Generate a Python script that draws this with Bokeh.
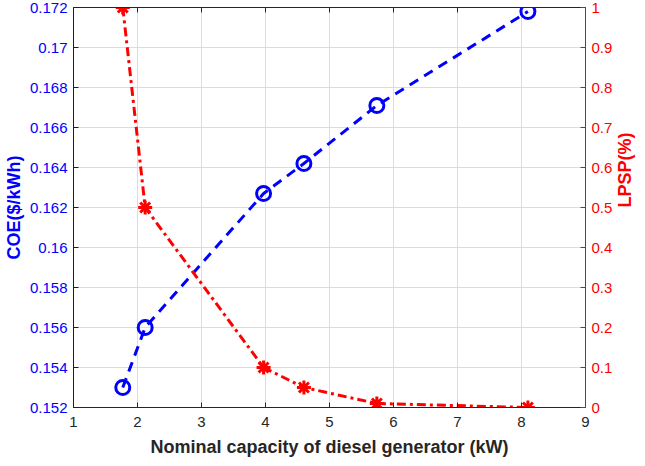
import math
from bokeh.plotting import figure
from bokeh.models import Range1d, LinearAxis, FixedTicker, CustomJSTickFormatter
from bokeh.embed import file_html
from bokeh.resources import INLINE

# Data
capacity_kw = [1.77, 2.12, 3.97, 4.60, 5.74, 8.10]
coe = [0.1530, 0.1560, 0.1627, 0.1642, 0.1671, 0.1718]
lpsp = [1.00, 0.50, 0.10, 0.05, 0.01, 0.00]

x_ticks = [1, 2, 3, 4, 5, 6, 7, 8, 9]
coe_ticks = [0.152, 0.154, 0.156, 0.158, 0.160, 0.162, 0.164, 0.166, 0.168, 0.170, 0.172]
lpsp_ticks = [0.0, 0.1, 0.2, 0.3, 0.4, 0.5, 0.6, 0.7, 0.8, 0.9, 1.0]

BLUE = "#0000ff"
RED = "#ff0000"
DARK = "#262626"
FONT = "Liberation Sans"
TICK_SIZE = "15px"
LABEL_SIZE = "18px"

p = figure(frame_width=512, frame_height=400, output_backend="svg", toolbar_location=None,
           x_range=Range1d(1, 9), y_range=Range1d(0.152, 0.172),
           min_border_left=10, min_border_top=7, min_border_right=4, min_border_bottom=4,
           background_fill_color="white", border_fill_color="white")
p.outline_line_color = None
p.extra_y_ranges = {"lpsp": Range1d(0, 1)}

# Grid
p.xgrid.ticker = FixedTicker(ticks=x_ticks)
p.xgrid.grid_line_color = "#dcdcdc"
p.xgrid.grid_line_width = 1
p.ygrid.ticker = FixedTicker(ticks=coe_ticks)
p.ygrid.grid_line_color = "#d8d8ff"
p.ygrid.grid_line_width = 1

# Bottom axis
xa = p.xaxis[0]
xa.ticker = FixedTicker(ticks=x_ticks)
xa.axis_label = "Nominal capacity of diesel generator (kW)"
xa.axis_label_text_font = FONT
xa.axis_label_text_font_style = "bold"
xa.axis_label_text_font_size = LABEL_SIZE
xa.axis_label_text_color = DARK
xa.axis_label_standoff = 7
xa.major_label_text_font = FONT
xa.major_label_text_font_size = TICK_SIZE
xa.major_label_text_color = DARK
xa.major_label_standoff = 9
xa.axis_line_color = DARK
xa.major_tick_line_color = DARK
xa.major_tick_in = 5
xa.major_tick_out = 0
xa.minor_tick_line_color = None

# Left axis
ya = p.yaxis[0]
ya.ticker = FixedTicker(ticks=coe_ticks)
ya.formatter = CustomJSTickFormatter(code="return String(parseFloat(tick.toFixed(3)));")
ya.axis_label = "COE($/kWh)"
ya.axis_label_text_font = FONT
ya.axis_label_text_font_style = "bold"
ya.axis_label_text_font_size = LABEL_SIZE
ya.axis_label_text_color = BLUE
ya.axis_label_standoff = 3
ya.major_label_text_font = FONT
ya.major_label_text_font_size = TICK_SIZE
ya.major_label_text_color = BLUE
ya.major_label_standoff = 6
ya.axis_line_color = BLUE
ya.major_tick_line_color = BLUE
ya.major_tick_in = 5
ya.major_tick_out = 0
ya.minor_tick_line_color = None

# Right axis
ra = LinearAxis(y_range_name="lpsp", ticker=FixedTicker(ticks=lpsp_ticks),
                formatter=CustomJSTickFormatter(code="return String(parseFloat(tick.toFixed(1)));"))
ra.axis_label = "LPSP(%)"
ra.axis_label_orientation = math.pi / 2
ra.axis_label_text_font = FONT
ra.axis_label_text_font_style = "bold"
ra.axis_label_text_font_size = LABEL_SIZE
ra.axis_label_text_color = RED
ra.axis_label_standoff = 10
ra.major_label_text_font = FONT
ra.major_label_text_font_size = TICK_SIZE
ra.major_label_text_color = RED
ra.major_label_standoff = 6
ra.axis_line_color = RED
ra.major_tick_line_color = RED
ra.major_tick_in = 5
ra.major_tick_out = 0
ra.minor_tick_line_color = None
p.add_layout(ra, "right")

# Top axis (box line with inward ticks, no labels)
ta = LinearAxis(ticker=FixedTicker(ticks=x_ticks))
ta.major_label_text_font_size = "0px"
ta.major_label_standoff = 0
ta.axis_line_color = DARK
ta.major_tick_line_color = DARK
ta.major_tick_in = 5
ta.major_tick_out = 0
ta.minor_tick_line_color = None
p.add_layout(ta, "above")

# COE series
p.line(capacity_kw, coe, line_color=BLUE, line_width=3, line_dash="10 7")
p.scatter(capacity_kw, coe, marker="circle", size=14, fill_color=None,
          line_color=BLUE, line_width=3)

# LPSP series
p.line(capacity_kw, lpsp, line_color=RED, line_width=3, line_dash="9 4 3 4",
       y_range_name="lpsp")
p.scatter(capacity_kw, lpsp, marker="asterisk", size=14, line_color=RED,
          line_width=3, y_range_name="lpsp")

open("out.html", "w").write(file_html(p, INLINE))
